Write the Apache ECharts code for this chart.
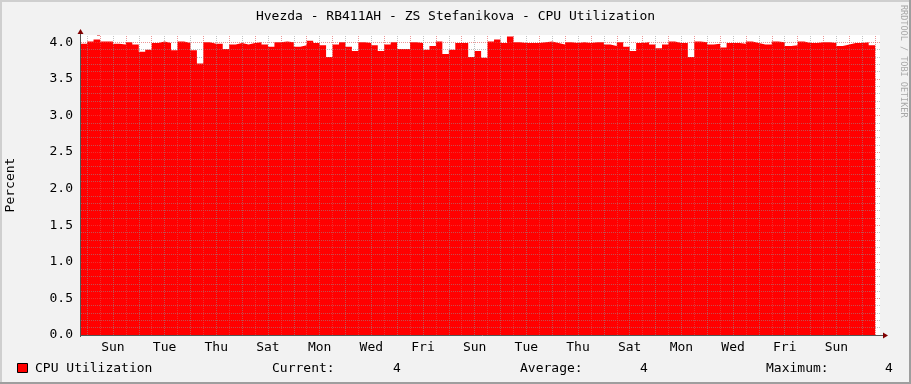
<!DOCTYPE html>
<html><head><meta charset="utf-8">
<script src="https://cdn.jsdelivr.net/npm/echarts@6/dist/echarts.min.js"></script>
<style>html,body{margin:0;padding:0;background:#F2F2F2}#c{width:911px;height:384px}</style>
</head><body><div id="c"></div>
<script>
const chartTitle = 'Hvezda - RB411AH - ZS Stefanikova - CPU Utilization';
const seriesName = 'CPU Utilization';
const yAxisName = 'Percent';
const watermark = 'RRDTOOL / TOBI OETIKER';
// x labels, one every 2 days (placed at noon), day 0 = first Sunday
const dayLabels = ['Sun','Tue','Thu','Sat','Mon','Wed','Fri','Sun','Tue','Thu','Sat','Mon','Wed','Fri','Sun'];
const labelEveryDays = 2;
const binHours = 6;
const firstBinStart = -18;      // hours relative to first Sunday 00:00
const xStartHours = -17.65;
const xEndHours = 724.5;
const yMax = 4.1;
// CPU utilisation, 6-hour averages
const cpuValues = [
 3.98,4.01,4.04,4.01,4.01,3.98,3.97,4.00,3.97,3.87,3.90,3.99,4.01,3.99,3.89,4.01,3.99,3.89,3.71,4.00,3.98,3.98,3.91,3.97,3.99,
 3.97,3.99,4.00,3.97,3.94,4.00,4.01,4.00,3.94,3.96,4.02,3.99,3.96,3.80,3.97,4.00,3.94,3.88,4.00,3.99,3.96,3.88,3.97,4.00,
 3.91,3.91,4.00,3.99,3.90,3.95,4.01,3.84,3.90,3.99,3.99,3.80,3.88,3.79,4.01,4.04,3.99,4.08,4.00,3.99,3.99,3.99,4.00,4.01,3.99,
 3.97,4.00,3.99,4.00,3.99,4.00,4.00,3.97,3.95,4.00,3.94,3.88,3.99,4.00,3.97,3.92,3.97,4.01,3.99,3.99,3.80,4.01,4.00,3.97,3.98,
 3.93,3.99,3.99,3.98,4.01,3.99,3.97,3.97,4.01,4.00,3.95,3.96,4.01,3.99,3.99,4.00,4.00,3.99,3.95,3.97,3.99,3.99,4.00,3.96
];
const statNames = ['Current:', 'Average:', 'Maximum:'];
const statValues = ['4', '4', '4'];

const MONO = '"DejaVu Sans Mono", monospace';
const seriesData = cpuValues.map((v, i) => [firstBinStart + i * binHours, v]);
seriesData.push([firstBinStart + cpuValues.length * binHours, cpuValues[cpuValues.length - 1]]);

const labelHours = dayLabels.map((d, k) => k * labelEveryDays * 24 + 12);
const minorGrid = { color: 'rgba(143,143,143,0.55)', width: 1, type: [1, 1] };
const majorGrid = { color: 'rgba(222,79,79,0.6)', width: 1, type: [1, 1] };
const gridMarks = [];
for (let k = 1; k <= 40; k++) {
  gridMarks.push({ yAxis: k / 10, lineStyle: (k % 5 === 0) ? majorGrid : minorGrid });
}
for (let d = 0; d * 24 - 12 <= xEndHours; d++) {
  gridMarks.push({ xAxis: d * 24 - 12, lineStyle: minorGrid });
  if (d * 24 <= xEndHours) gridMarks.push({ xAxis: d * 24, lineStyle: majorGrid });
}

const chart = echarts.init(document.getElementById('c'), null, { renderer: 'canvas' });
const statX = [272, 520, 766];
const statValX = [397, 644, 889];
const graphics = [
  { type: 'rect', shape: { x: 0, y: 0, width: 911, height: 2 }, style: { fill: '#CFCFCF' }, silent: true },
  { type: 'rect', shape: { x: 0, y: 0, width: 2, height: 384 }, style: { fill: '#CFCFCF' }, silent: true },
  { type: 'rect', shape: { x: 0, y: 382, width: 911, height: 2 }, style: { fill: '#9E9E9E' }, silent: true },
  { type: 'rect', shape: { x: 909, y: 0, width: 2, height: 384 }, style: { fill: '#9E9E9E' }, silent: true },
  { type: 'line', shape: { x1: 81, y1: 335.5, x2: 884, y2: 335.5 }, style: { stroke: '#555', lineWidth: 1 }, z: 10 },
  { type: 'line', shape: { x1: 80.5, y1: 337, x2: 80.5, y2: 31 }, style: { stroke: '#555', lineWidth: 1 }, z: 10 },
  { type: 'polygon', shape: { points: [[77.5, 34], [83.5, 34], [80.5, 29]] }, style: { fill: '#800000' }, z: 11 },
  { type: 'polygon', shape: { points: [[883, 332.5], [883, 338.5], [888, 335.5]] }, style: { fill: '#800000' }, z: 11 },
  { type: 'text', x: 903, y: 5, rotation: -Math.PI / 2,
    style: { text: watermark, font: '8.5px ' + MONO, fill: '#A8A8A8', align: 'left', verticalAlign: 'middle' }, silent: true },
  { type: 'rect', shape: { x: 17.5, y: 363.5, width: 10, height: 9 }, style: { fill: '#FF0000', stroke: '#000', lineWidth: 1 }, z: 10 },
  { type: 'text', x: 35, y: 368.5, style: { text: seriesName, font: '13px ' + MONO, fill: '#000', align: 'left', verticalAlign: 'middle' } },
  { type: 'text', x: 11, y: 185, rotation: Math.PI / 2,
    style: { text: yAxisName, font: '13px ' + MONO, fill: '#000', align: 'center', verticalAlign: 'middle' } }
];
statNames.forEach((s, i) => {
  graphics.push({ type: 'text', x: statX[i], y: 368.5, style: { text: s, font: '13px ' + MONO, fill: '#000', align: 'left', verticalAlign: 'middle' } });
  graphics.push({ type: 'text', x: statValX[i], y: 368.5, style: { text: statValues[i], font: '13px ' + MONO, fill: '#000', align: 'center', verticalAlign: 'middle' } });
});

chart.setOption({
  animation: false,
  backgroundColor: '#F2F2F2',
  title: {
    text: chartTitle, left: 'center', top: 5,
    textStyle: { fontFamily: MONO, fontSize: 13, fontWeight: 'normal', color: '#000' }
  },
  grid: { left: 81, top: 35, width: 799, height: 300, show: true, backgroundColor: '#FFFFFF', borderWidth: 0,
          containLabel: false, outerBoundsMode: 'none' },
  xAxis: {
    type: 'value', min: xStartHours, max: xEndHours,
    axisLine: { show: false }, axisTick: { show: false }, splitLine: { show: false },
    axisLabel: {
      customValues: labelHours,
      formatter: (v) => dayLabels[Math.round((v - 12) / (24 * labelEveryDays))] || '',
      fontFamily: MONO, fontSize: 13, color: '#000', margin: 6
    }
  },
  yAxis: {
    type: 'value', min: 0, max: yMax, interval: 0.5,
    axisLine: { show: false },
    axisTick: { show: true, length: 3, lineStyle: { color: 'rgba(222,79,79,0.7)' } },
    minorTick: { show: true, splitNumber: 5, length: 3, lineStyle: { color: 'rgba(143,143,143,0.7)' } },
    splitLine: { show: false },
    axisLabel: {
      formatter: (v) => v.toFixed(1), showMaxLabel: false,
      fontFamily: MONO, fontSize: 13, color: '#000', margin: 8
    }
  },
  series: [{
    name: seriesName, type: 'line', step: 'end', data: seriesData,
    showSymbol: false, symbol: 'none', clip: true,
    itemStyle: { color: '#FF0000' },
    lineStyle: { width: 0, color: '#FF0000' },
    areaStyle: { color: '#FF0000', opacity: 1, origin: 'start' },
    markLine: {
      silent: true, symbol: ['none', 'none'], label: { show: false }, animation: false,
      data: gridMarks
    }
  }],
  graphic: graphics
});
</script></body></html>
